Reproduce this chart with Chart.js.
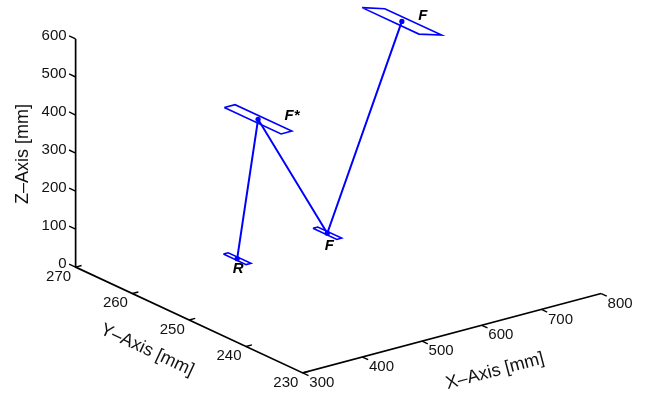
<!DOCTYPE html>
<html>
<head>
<meta charset="utf-8">
<script src="https://cdn.jsdelivr.net/npm/chart.js@4.4.1/dist/chart.umd.min.js"></script>
<style>
  html, body { margin: 0; padding: 0; background: #ffffff; }
  #wrap { width: 656px; height: 397px; }
</style>
</head>
<body>
<div id="wrap"><canvas id="c" width="656" height="397"></canvas></div>
<script>
// ---------------- DATA (mm) ----------------
const pointNames = ['R', 'F*', 'F', 'F'];
const pointX = [428, 463, 579, 704];
const pointY = [255, 255, 255, 255];
const pointZ = [73, 425, 77, 582];

// each point carries a small rectangular plane: half extents (mm)
const planeHalfX = [4, 9, 4, 19];
const planeHalfY = [2, 5, 2.1, 5];
const planeHalfZ = [0, 0, 0, -9.3];

const xLimits = [300, 800];
const yLimits = [230, 270];
const zLimits = [0, 600];
const xTickValues = [300, 400, 500, 600, 700, 800];
const yTickValues = [230, 240, 250, 260, 270];
const zTickValues = [0, 100, 200, 300, 400, 500, 600];
const xTitle = 'X\u2013Axis [mm]';
const yTitle = 'Y\u2013Axis [mm]';
const zTitle = 'Z\u2013Axis [mm]';

// ---------------- VIEW (orthographic projection) ----------------
const VIEW = {
  origin: [72.5, 268.5],          // screen point of (xmin, ymax, zmin)
  ex: [0.604, -0.162],            // screen step per +1 mm x
  ey: [-5.75, -2.7],              // screen step per +1 mm y
  ez: [0, -0.388]                 // screen step per +1 mm z
};
function proj(x, y, z) {
  const dx = x - xLimits[0], dy = y - yLimits[1], dz = z - zLimits[0];
  return {
    x: VIEW.origin[0] + dx * VIEW.ex[0] + dy * VIEW.ey[0] + dz * VIEW.ez[0],
    y: VIEW.origin[1] + dx * VIEW.ex[1] + dy * VIEW.ey[1] + dz * VIEW.ez[1]
  };
}

const BLUE = '#0000ff';
const BLACK = '#000000';
const datasets = [];
function lineSet(pts, color, width) {
  datasets.push({
    data: pts, showLine: true, borderColor: color, borderWidth: width,
    pointRadius: 0, pointHoverRadius: 0, fill: false, clip: false, tension: 0
  });
}

// axes box lines
lineSet([
  proj(xLimits[0], yLimits[1], zLimits[1]),
  proj(xLimits[0], yLimits[1], zLimits[0]),
  proj(xLimits[0], yLimits[0], zLimits[0]),
  proj(xLimits[1], yLimits[0], zLimits[0])
], BLACK, 1.7);

// tick marks (3D directions)
const TICK = { z: [0, 1.15, 0], y: [10, 0, 0], x: [0, -1, 0] };
zTickValues.forEach(v => {
  const a = [xLimits[0], yLimits[1], v];
  lineSet([proj(a[0], a[1], a[2]), proj(a[0] + TICK.z[0], a[1] + TICK.z[1], a[2] + TICK.z[2])], BLACK, 1.4);
});
yTickValues.forEach(v => {
  const a = [xLimits[0], v, zLimits[0]];
  lineSet([proj(a[0], a[1], a[2]), proj(a[0] + TICK.y[0], a[1] + TICK.y[1], a[2] + TICK.y[2])], BLACK, 1.4);
});
xTickValues.forEach(v => {
  const a = [v, yLimits[0], zLimits[0]];
  lineSet([proj(a[0], a[1], a[2]), proj(a[0] + TICK.x[0], a[1] + TICK.x[1], a[2] + TICK.x[2])], BLACK, 1.4);
});

// planes
pointX.forEach((px, i) => {
  const py = pointY[i], pz = pointZ[i];
  const hx = planeHalfX[i], hy = planeHalfY[i], hz = planeHalfZ[i];
  const c = [[-1, 1], [1, 1], [1, -1], [-1, -1], [-1, 1]];
  lineSet(c.map(([s, t]) => proj(px + s * hx, py + t * hy, pz + s * hz)), BLUE, 1.6);
});

// trajectory R -> F* -> F -> F
lineSet(pointX.map((v, i) => proj(v, pointY[i], pointZ[i])), BLUE, 2);

// point markers
datasets.push({
  data: pointX.map((v, i) => proj(v, pointY[i], pointZ[i])),
  showLine: false, pointRadius: 2.6, pointBackgroundColor: BLUE, pointBorderColor: BLUE,
  pointBorderWidth: 0, clip: false
});

// ---------------- TEXT PLUGIN ----------------
const FONT = '"Liberation Sans", Arial, Helvetica, sans-serif';
const LABEL_OFFSETS = [[1, 10], [34, -3], [2, 13], [21, -6]];
const textPlugin = {
  id: 'text3d',
  afterDatasetsDraw(chart) {
    const ctx = chart.ctx, sx = chart.scales.x, sy = chart.scales.y;
    const P = (x, y, z) => { const p = proj(x, y, z); return [sx.getPixelForValue(p.x), sy.getPixelForValue(p.y)]; };
    ctx.save();
    ctx.fillStyle = '#111';
    ctx.font = '15px ' + FONT;
    ctx.textBaseline = 'middle';
    // z tick labels
    ctx.textAlign = 'right';
    zTickValues.forEach(v => {
      const [x, y] = P(xLimits[0], yLimits[1], v);
      ctx.fillText(String(v), x - 9, y - 3.5);
    });
    // y tick labels
    ctx.textAlign = 'center';
    yTickValues.forEach(v => {
      const [x, y] = P(xLimits[0], v, zLimits[0]);
      ctx.fillText(String(v), x - 17, y + 9.5);
    });
    // x tick labels
    xTickValues.forEach(v => {
      const [x, y] = P(v, yLimits[0], zLimits[0]);
      ctx.fillText(String(v), x + 19, y + 10);
    });
    // axis titles
    ctx.font = '18px ' + FONT;
    const xa = P(xLimits[0], yLimits[0], 0), xb = P(xLimits[1], yLimits[0], 0);
    const angX = Math.atan2(xb[1] - xa[1], xb[0] - xa[0]);
    const xm = P((xLimits[0] + xLimits[1]) / 2, yLimits[0], 0);
    ctx.save(); ctx.translate(xm[0] + 43, xm[1] + 38); ctx.rotate(angX); ctx.fillText(xTitle, 0, 0); ctx.restore();
    const ya = P(xLimits[0], yLimits[1], 0), yb = P(xLimits[0], yLimits[0], 0);
    const angY = Math.atan2(yb[1] - ya[1], yb[0] - ya[0]);
    const ym = P(xLimits[0], (yLimits[0] + yLimits[1]) / 2, 0);
    ctx.save(); ctx.translate(ym[0] - 42, ym[1] + 30); ctx.rotate(angY); ctx.fillText(yTitle, 0, 0); ctx.restore();
    const zm = P(xLimits[0], yLimits[1], (zLimits[0] + zLimits[1]) / 2);
    ctx.save(); ctx.translate(zm[0] - 53, zm[1] + 1); ctx.rotate(-Math.PI / 2); ctx.fillText(zTitle, 0, 0); ctx.restore();
    // point labels
    ctx.font = 'italic bold 15px ' + FONT;
    ctx.fillStyle = '#000';
    pointNames.forEach((n, i) => {
      const [x, y] = P(pointX[i], pointY[i], pointZ[i]);
      ctx.fillText(n, x + LABEL_OFFSETS[i][0], y + LABEL_OFFSETS[i][1]);
    });
    ctx.restore();
  }
};

new Chart(document.getElementById('c'), {
  type: 'scatter',
  data: { datasets },
  options: {
    responsive: false,
    animation: false,
    devicePixelRatio: 1,
    layout: { padding: 0 },
    plugins: { legend: { display: false }, tooltip: { enabled: false } },
    events: [],
    scales: {
      x: { type: 'linear', min: 0, max: 656, display: false },
      y: { type: 'linear', min: 0, max: 397, reverse: true, display: false }
    }
  },
  plugins: [textPlugin]
});
</script>
</body>
</html>
